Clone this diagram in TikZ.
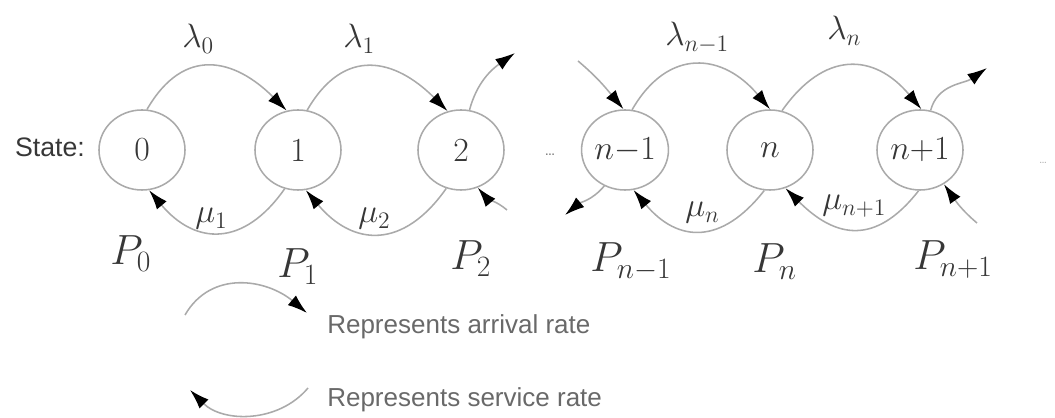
\documentclass[tikz,border=0pt]{standalone}
\usepackage{fix-cm}
\usepackage{amsmath}
\usepackage{fontspec}
\setsansfont{Liberation Sans}
\usepackage{xcolor}
\definecolor{bdgray}{RGB}{170,170,170}
\definecolor{txgray}{RGB}{55,55,55}
\definecolor{lggray}{RGB}{105,105,105}
\usepackage{tikz}
\usetikzlibrary{arrows.meta, shapes.geometric}

\begin{document}
\begin{tikzpicture}[x=0.025cm, y=0.025cm,
  state/.style={ellipse, draw=bdgray, line width=1.1pt, minimum width=2.15cm, minimum height=2cm, inner sep=0pt, text=txgray, font=\fontsize{24}{26}\selectfont},
  arc/.style={draw=bdgray, line width=1.1pt, looseness=1.35, -{Latex[length=14pt, width=9pt, color=black]}},
  rate/.style={anchor=base west, inner sep=0pt, text=txgray, font=\fontsize{24}{26}\selectfont},
  prob/.style={anchor=base west, inner sep=0pt, text=txgray, font=\fontsize{30}{32}\selectfont},
  legend/.style={anchor=west, inner sep=0pt, text=lggray, font=\sffamily\fontsize{18.5}{20}\selectfont}]
  \useasboundingbox (0,0) rectangle (1055,418);

  % States
  \node[anchor=center, text=txgray, font=\sffamily\fontsize{19}{21}\selectfont] (lab) at (50,271) {State:};
  \node[state] (s0) at (142,268) {0};
  \node[state] (s1) at (298,268) {1};
  \node[state] (s2) at (461,268) {2};
  \node[text=lggray, font=\fontsize{12}{14}\selectfont] (gap) at (550,263) {\dots};
  \node[state] (sm) at (625,268) {$n{-}1$};
  \node[state] (sn) at (770,268) {$n$};
  \node[state] (sp) at (920,268) {$n{+}1$};
  \node[text=bdgray, font=\fontsize{8}{10}\selectfont] (more) at (1043,255) {\dots};

  % Arrival rates
  \draw[arc] (s0.83) to[out=60, in=135] (s1.106);
  \draw[arc] (s1.77) to[out=60, in=135] (s2.109);
  \draw[arc] (sm.80) to[out=60, in=130] (sn.90);
  \draw[arc] (sn.73) to[out=55, in=130] (sp.88);
  \node[rate] (lam0) at (182,370) {$\lambda_0$};
  \node[rate] (lam1) at (343,370) {$\lambda_1$};
  \node[rate] (lamm) at (665,372) {$\lambda_{n-1}$};
  \node[rate] (lamn) at (827,378) {$\lambda_n$};

  % Service rates
  \draw[arc] (s1.251) to[out=235, in=-50] (s0.280);
  \draw[arc] (s2.249) to[out=235, in=-50] (s1.281);
  \draw[arc] (sn.262) to[out=232, in=-50] (sm.282);
  \draw[arc] (sp.268) to[out=232, in=-45] (sn.292);
  \node[rate] (mu1) at (195,195) {$\mu_1$};
  \node[rate] (mu2) at (358,195) {$\mu_2$};
  \node[rate] (mun) at (685,201) {$\mu_n$};
  \node[rate] (mup) at (822,208) {$\mu_{n+1}$};

  % Open ends
  \coordinate (o2) at (515,365);
  \coordinate (i2) at (507,208);
  \coordinate (im) at (578,357);
  \coordinate (om) at (565,203);
  \coordinate (op) at (987,350);
  \coordinate (ip) at (977,195);
  \draw[arc, looseness=1] (s2.78) to[out=75, in=215] (o2);
  \draw[arc, looseness=1] (i2) to[out=140, in=-50] (s2.294);
  \draw[arc, looseness=1] (im) to[out=-40, in=130] (sm.92);
  \draw[arc, looseness=1] (sm.240) to[out=230, in=40] (om);
  \draw[arc, looseness=1] (sp.75) to[out=75, in=215] (op);
  \draw[arc, looseness=1] (ip) to[out=140, in=-55] (sp.305);

  % Probabilities
  \node[prob] (p0) at (110,153) {$P_0$};
  \node[prob] (p1) at (277,140) {$P_1$};
  \node[prob] (p2) at (450,148) {$P_2$};
  \node[prob] (pm) at (590,146) {$P_{n-1}$};
  \node[prob] (pn) at (752,145) {$P_n$};
  \node[prob] (pp) at (913,148) {$P_{n+1}$};

  % Legend
  \coordinate (arrS) at (185,103);
  \coordinate (arrE) at (307,105);
  \draw[arc, looseness=1.1] (arrS) to[out=60, in=140] (arrE);
  \node[legend] (arrT) at (327,91) {Represents arrival rate};
  \coordinate (svcS) at (308,30);
  \coordinate (svcE) at (190,28);
  \draw[arc, looseness=1] (svcS) to[out=230, in=-45] (svcE);
  \node[legend] (svcT) at (327,18) {Represents service rate};
\end{tikzpicture}
\end{document}
